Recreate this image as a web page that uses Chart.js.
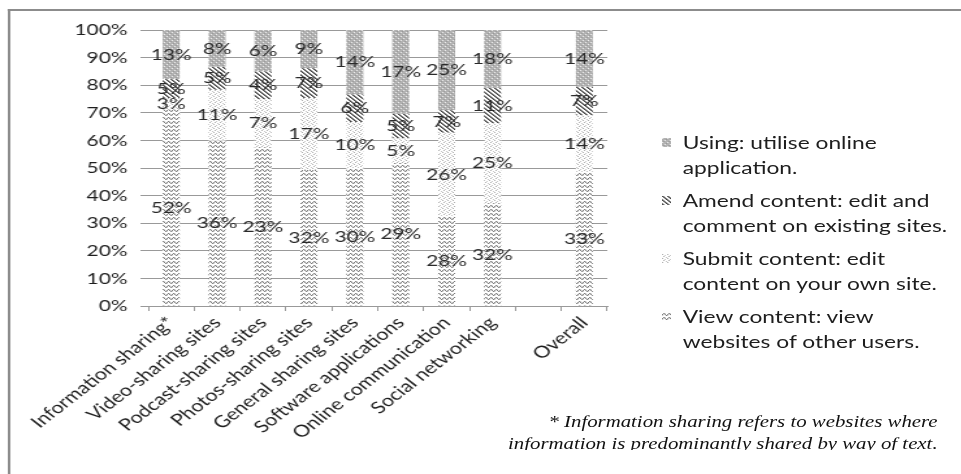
<!DOCTYPE html>
<html>
<head>
<meta charset="utf-8">
<script src="https://cdn.jsdelivr.net/npm/chart.js@4.4.0/dist/chart.umd.min.js"></script>
<style>
  html, body { margin: 0; padding: 0; background: #fff; overflow: hidden; }
  /* the reference is a horizontally stretched picture, so the whole page is stretched too */
  #page { position: absolute; left: 0; top: 0; width: 739px; height: 474px; transform: scaleX(1.3004); transform-origin: 0 0; }
  #frame { position: absolute; left: 6px; top: 9px; width: 900px; height: 700px; border-top: 2px solid #8c8c8c; border-left: 2px solid #8c8c8c; }
  #c { position: absolute; left: 0; top: 0; }
  #legend { position: absolute; left: 509px; top: 130px; font: 17.5px Lato, sans-serif; color: #1e1e1e; }
  .item { position: relative; padding-left: 16px; line-height: 25px; margin-bottom: 8px; white-space: nowrap; }
  .sw { position: absolute; left: 0; top: 8px; width: 7px; height: 9px; }
  #note { position: absolute; right: 18px; top: 411px; height: 39px; overflow: hidden; text-align: right;
          font: italic 16px "Liberation Serif", serif; line-height: 22px; color: #111; white-space: nowrap; }
</style>
</head>
<body>
<div id="page">
  <div id="frame"></div>
  <canvas id="c" width="739" height="474"></canvas>
  <div id="legend"></div>
  <div id="note">* Information sharing refers to websites where<br>information is predominantly shared by way of text.</div>
</div>
<script>
// categories (the empty one is the gap before "Overall")
var categories = ['Information sharing*', 'Video-sharing sites', 'Podcast-sharing sites', 'Photos-sharing sites',
                  'General sharing sites', 'Software applications', 'Online communication', 'Social networking', '', 'Overall'];
// values printed on the bars, bottom to top
var viewContent   = [52, 36, 23, 32, 30, 29, 28, 32, null, 33];
var submitContent = [3, 11, 7, 17, 10, 5, 26, 25, null, 14];
var amendContent  = [5, 5, 4, 7, 6, 5, 7, 11, null, 7];
var usingOnline   = [13, 8, 6, 9, 14, 17, 25, 18, null, 14];
// legend text, one entry per line
var viewName   = ['View content: view', 'websites of other users.'];
var submitName = ['Submit content: edit', 'content on your own site.'];
var amendName  = ['Amend content: edit and', 'comment on existing sites.'];
var usingName  = ['Using: utilise online', 'application.'];

// small pattern tiles, like the excel fills
function tile(bg, px) {
    var c = document.createElement('canvas');
    c.width = 4; c.height = 4;
    var g = c.getContext('2d');
    g.fillStyle = bg; g.fillRect(0, 0, 4, 4);
    px.forEach(function(p){ g.fillStyle = p[2]; g.fillRect(p[0], p[1], 1, 1); });
    return c;
}
var waveTile = tile('#fff', [[0,2,'#7a7a7a'],[1,1,'#7a7a7a'],[2,2,'#7a7a7a'],[3,3,'#7a7a7a'],[0,3,'#d0d0d0'],[2,1,'#d0d0d0']]);
var dotTile  = tile('#fff', [[0,0,'#b0b0b0'],[2,1,'#c8c8c8'],[1,2,'#b0b0b0'],[3,3,'#c8c8c8']]);
var diagTile = tile('#fff', [[0,0,'#444'],[1,1,'#444'],[2,2,'#444'],[3,3,'#444'],[1,0,'#888'],[2,1,'#888'],[3,2,'#888'],[0,3,'#888']]);
var greyTile = tile('#b2b2b2', [[0,0,'#eee'],[2,2,'#eee'],[1,3,'#999'],[3,1,'#999']]);

var ctx = document.getElementById('c').getContext('2d');
function pat(t){ return ctx.createPattern(t, 'repeat'); }

// 100% stacked: each bar is scaled to its own total
function share(arr) {
    return arr.map(function(v, i){
        if (v == null) return null;
        var tot = viewContent[i] + submitContent[i] + amendContent[i] + usingOnline[i];
        return v / tot * 100;
    });
}

var series = [
    { raw: viewContent,   name: viewName,   t: waveTile },
    { raw: submitContent, name: submitName, t: dotTile },
    { raw: amendContent,  name: amendName,  t: diagTile },
    { raw: usingOnline,   name: usingName,  t: greyTile }
];

var segmentLabels = {
    id: 'segmentLabels',
    afterDatasetsDraw: function(chart) {
        var c = chart.ctx;
        c.save();
        c.font = '16px Lato, sans-serif';
        c.fillStyle = '#2a2a2a';
        c.textAlign = 'center';
        c.textBaseline = 'middle';
        chart.data.datasets.forEach(function(ds, d) {
            chart.getDatasetMeta(d).data.forEach(function(bar, i) {
                if (ds.raw[i] == null) return;
                c.fillText(ds.raw[i] + '%', bar.x, (bar.y + bar.base) / 2);
            });
        });
        c.restore();
    }
};

new Chart(ctx, {
    type: 'bar',
    data: {
        labels: categories,
        datasets: series.map(function(s){
            return {
                label: s.name.join(' '),
                raw: s.raw,
                data: share(s.raw),
                backgroundColor: pat(s.t),
                borderWidth: 0,
                categoryPercentage: 0.37,
                barPercentage: 1
            };
        })
    },
    options: {
        responsive: false,
        animation: false,
        events: [],
        layout: { padding: { top: 30, right: 272, left: 0, bottom: 0 } },
        plugins: { legend: { display: false }, tooltip: { enabled: false } },
        scales: {
            x: {
                stacked: true,
                afterFit: function(s){ s.height = 168; },
                grid: { offset: true, drawOnChartArea: false, drawTicks: true, tickLength: 5, color: '#999' },
                border: { display: true, color: '#999' },
                ticks: { autoSkip: false, minRotation: 45, maxRotation: 45, padding: 2, color: '#1e1e1e',
                         font: { family: 'Lato', size: 16.5 } }
            },
            y: {
                stacked: true, min: 0, max: 100,
                afterFit: function(s){ s.width = 114; },
                grid: { color: '#999', tickLength: 6 },
                border: { display: false },
                ticks: { stepSize: 10, padding: 10, color: '#1e1e1e', font: { family: 'Lato', size: 16 },
                         callback: function(v){ return v + '%'; } }
            }
        }
    },
    plugins: [segmentLabels]
});

// legend, top series first
var legend = document.getElementById('legend');
series.slice().reverse().forEach(function(s){
    var item = document.createElement('div');
    item.className = 'item';
    var sw = document.createElement('span');
    sw.className = 'sw';
    sw.style.backgroundImage = 'url(' + s.t.toDataURL() + ')';
    item.appendChild(sw);
    s.name.forEach(function(line, k){
        if (k) item.appendChild(document.createElement('br'));
        item.appendChild(document.createTextNode(line));
    });
    legend.appendChild(item);
});
</script>
</body>
</html>
